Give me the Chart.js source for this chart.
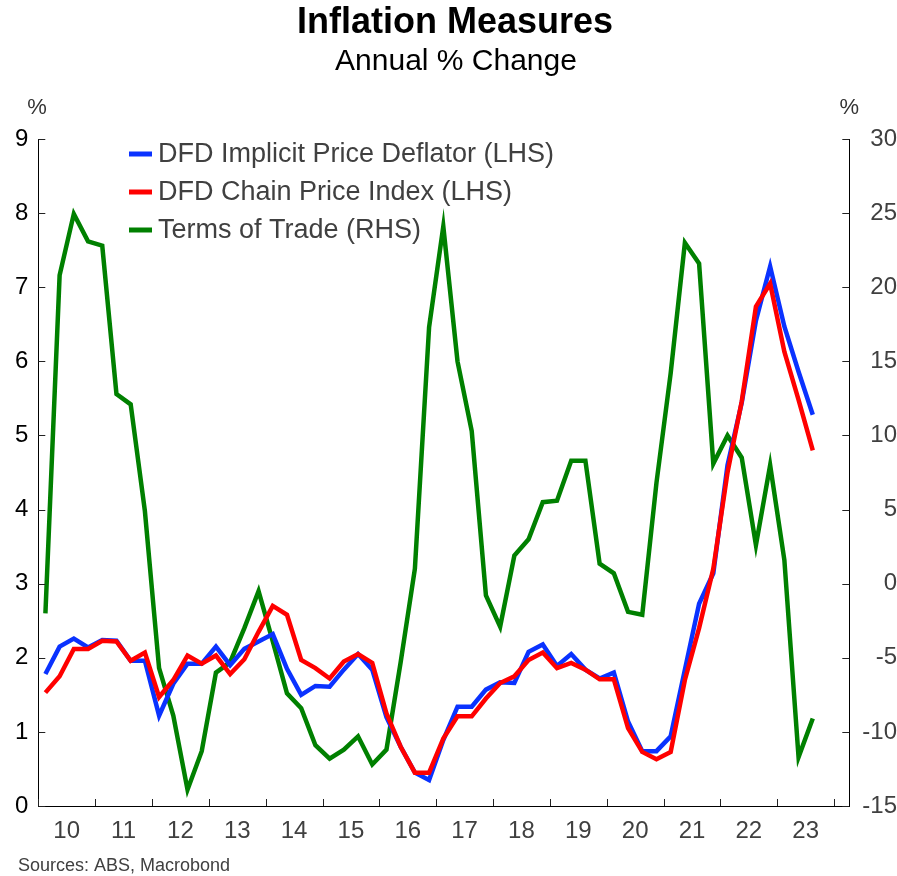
<!DOCTYPE html>
<html>
<head>
<meta charset="utf-8">
<script src="https://cdn.jsdelivr.net/npm/chart.js@4.4.1/dist/chart.umd.min.js"></script>
<style>
html,body{margin:0;padding:0;background:#fff;}
#wrap{width:897px;height:876px;}
</style>
</head>
<body>
<div id="wrap"><canvas id="chart" width="897" height="876"></canvas></div>
<script>
/* Inflation measures – quarterly, 2010Q1 .. 2023Q3 */
const FONT = "'Liberation Sans', Arial, sans-serif";
const YEAR_LABELS = ["10","11","12","13","14","15","16","17","18","19","20","21","22","23"];

// quarter labels (categories)
const QUARTERS = [];
for (let y = 2010; y <= 2023; y++) for (let q = 1; q <= 4; q++) QUARTERS.push(y + "Q" + q);
QUARTERS.length = 55; // last observation 2023Q3

// DFD implicit price deflator, annual % (LHS)
const DEFLATOR = [
  1.78, 2.15, 2.26, 2.14,
  2.24, 2.23, 1.96, 1.96,
  1.22, 1.65, 1.92, 1.92,
  2.15, 1.90, 2.12, 2.22,
  2.32, 1.85, 1.50, 1.62,
  1.61, 1.84, 2.05, 1.84,
  1.20, 0.80, 0.45, 0.35,
  0.89, 1.34, 1.34, 1.57,
  1.67, 1.66, 2.08, 2.18,
  1.89, 2.05, 1.84, 1.72,
  1.80, 1.14, 0.74, 0.74,
  0.94, 1.84, 2.73, 3.14,
  4.60, 5.44, 6.55, 7.28,
  6.47, 5.86, 5.28
];
// DFD chain price index, annual % (LHS)
const CHAIN = [
  1.53, 1.75, 2.12, 2.12,
  2.23, 2.22, 1.96, 2.07,
  1.47, 1.70, 2.03, 1.92,
  2.03, 1.78, 1.98, 2.35,
  2.70, 2.58, 1.97, 1.86,
  1.72, 1.95, 2.05, 1.93,
  1.25, 0.80, 0.45, 0.45,
  0.91, 1.21, 1.21, 1.45,
  1.66, 1.75, 1.97, 2.07,
  1.86, 1.93, 1.84, 1.71,
  1.71, 1.05, 0.73, 0.63,
  0.73, 1.70, 2.40, 3.20,
  4.50, 5.46, 6.74, 7.05,
  6.13, 5.48, 4.80
];
// Terms of trade, annual % (RHS)
const TOT = [
  -2.0, 20.8, 24.95, 23.1,
  22.8, 12.8, 12.1, 4.9,
  -5.7, -8.9, -13.9, -11.3,
  -6.0, -5.3, -3.0, -0.5,
  -3.9, -7.4, -8.4, -10.9,
  -11.8, -11.2, -10.3, -12.2,
  -11.2, -5.3, 1.0, 17.3,
  24.1, 15.0, 10.3, -0.8,
  -2.9, 1.9, 3.0, 5.5,
  5.6, 8.3, 8.3, 1.35,
  0.7, -1.9, -2.1, 6.8,
  14.2, 23.0, 21.6, 8.1,
  10.0, 8.5, 2.6, 8.0,
  1.6, -11.7, -9.1
];

const LEFT_TICKS = [0,1,2,3,4,5,6,7,8,9];
const RIGHT_TICKS = [-15,-10,-5,0,5,10,15,20,25,30];

const SERIES = [
  {label:"DFD Implicit Price Deflator (LHS)", data:DEFLATOR, color:"#0a32ff", axis:"y", order:1},
  {label:"DFD Chain Price Index (LHS)", data:CHAIN, color:"#ff0000", axis:"y", order:0},
  {label:"Terms of Trade (RHS)", data:TOT, color:"#008000", axis:"y1", order:2}
];

// x position: quarter midpoint, counted in quarters from start of 2010
const pts = arr => arr.map((v,i)=>({x:i+0.5, y:v, q:QUARTERS[i]}));

const xTicks = [];
for (let v = 0; v <= 56; v += 2) xTicks.push(v);

const innerTicks = {
  id:"innerTicks",
  afterDraw(chart){
    const ctx = chart.ctx, a = chart.chartArea, L = 7;
    ctx.save();
    ctx.strokeStyle = "#222"; ctx.lineWidth = 1;
    ctx.beginPath();
    chart.scales.x.ticks.forEach(t=>{
      if (t.value % 4 !== 0) return;
      const px = Math.round(chart.scales.x.getPixelForValue(t.value)) + 0.5;
      ctx.moveTo(px, a.bottom); ctx.lineTo(px, a.bottom - L);
    });
    LEFT_TICKS.forEach(v=>{
      const py = Math.round(chart.scales.y.getPixelForValue(v)) + 0.5;
      ctx.moveTo(a.left, py); ctx.lineTo(a.left + L, py);
    });
    RIGHT_TICKS.forEach(v=>{
      const py = Math.round(chart.scales.y1.getPixelForValue(v)) + 0.5;
      ctx.moveTo(a.right, py); ctx.lineTo(a.right - L, py);
    });
    ctx.stroke();
    ctx.restore();
  }
};

const overlay = {
  id:"overlay",
  afterDraw(chart){
    const ctx = chart.ctx, a = chart.chartArea;
    ctx.save();
    ctx.textBaseline = "middle";
    ctx.textAlign = "center";
    ctx.fillStyle = "#000";
    ctx.font = "bold 36px " + FONT;
    ctx.fillText("Inflation Measures", 455, 23);
    ctx.font = "30px " + FONT;
    ctx.fillText("Annual % Change", 456, 62);
    ctx.font = "22px " + FONT;
    ctx.fillStyle = "#333";
    ctx.fillText("%", 37, 108);
    ctx.fillText("%", a.right, 108);
    // legend
    ctx.textAlign = "left";
    ctx.font = "27px " + FONT;
    SERIES.forEach((s,i)=>{
      const y = 154 + i*38;
      ctx.strokeStyle = s.color; ctx.lineWidth = 5;
      ctx.beginPath(); ctx.moveTo(129, y); ctx.lineTo(152, y); ctx.stroke();
      ctx.fillStyle = "#404040";
      ctx.fillText(s.label, 158, y + 1);
    });
    ctx.font = "18px " + FONT;
    ctx.fillStyle = "#404040";
    ctx.fillText("Sources: ABS, Macrobond", 18, 866);
    ctx.restore();
  }
};

new Chart(document.getElementById("chart"), {
  type:"line",
  data:{
    datasets: SERIES.map(s=>({
      label:s.label, data:pts(s.data), yAxisID:s.axis, order:s.order,
      borderColor:s.color, backgroundColor:s.color, borderWidth:4.5,
      pointRadius:0, tension:0, borderJoinStyle:"miter", fill:false
    }))
  },
  options:{
    responsive:false, animation:false, devicePixelRatio:1,
    layout:{padding:{top:139, left:0, right:0, bottom:0}},
    plugins:{legend:{display:false}, title:{display:false}, tooltip:{enabled:false}},
    scales:{
      x:{
        type:"linear", min:0, max:57.07,
        afterBuildTicks: ax => { ax.ticks = xTicks.map(v=>({value:v})); },
        afterFit: ax => { ax.height = 70; },
        grid:{drawOnChartArea:false, drawTicks:false},
        border:{display:true, color:"#000", width:1},
        ticks:{
          autoSkip:false, maxRotation:0, padding:11, color:"#404040",
          font:{family:FONT, size:24},
          callback: v => v % 4 === 2 ? YEAR_LABELS[(v-2)/4] : ""
        }
      },
      y:{
        position:"left", min:0, max:9,
        afterBuildTicks: ax => { ax.ticks = LEFT_TICKS.map(v=>({value:v})); },
        afterFit: ax => { ax.width = 38.3; },
        grid:{drawOnChartArea:false, drawTicks:false},
        border:{display:true, color:"#000", width:1},
        ticks:{padding:10, color:"#000", font:{family:FONT, size:24}}
      },
      y1:{
        position:"right", min:-15, max:30,
        afterBuildTicks: ax => { ax.ticks = RIGHT_TICKS.map(v=>({value:v})); },
        afterFit: ax => { ax.width = 47.7; },
        grid:{drawOnChartArea:false, drawTicks:false},
        border:{display:true, color:"#000", width:1},
        ticks:{padding:10, crossAlign:"far", color:"#404040", font:{family:FONT, size:24}}
      }
    }
  },
  plugins:[innerTicks, overlay]
});
</script>
</body>
</html>
